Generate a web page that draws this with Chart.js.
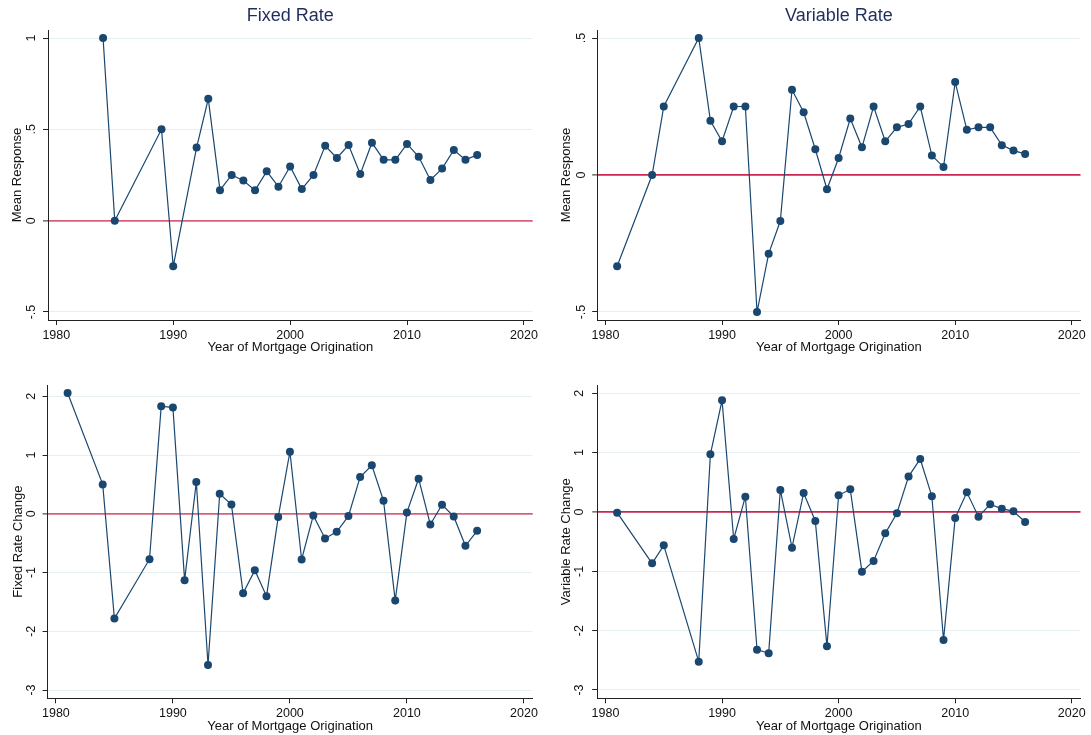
<!DOCTYPE html>
<html>
<head>
<meta charset="utf-8">
<script src="https://cdn.jsdelivr.net/npm/chart.js@4.4.1/dist/chart.umd.min.js"></script>
<style>
  body { margin: 0; background: #fff; }
  #wrap { position: relative; width: 1091px; height: 735px; }
  canvas { position: absolute; }
</style>
</head>
<body>
<div id="wrap">
  <canvas id="c1" width="545" height="367" style="left:0;top:0"></canvas>
  <canvas id="c2" width="546" height="367" style="left:545px;top:0"></canvas>
  <canvas id="c3" width="545" height="368" style="left:0;top:367px"></canvas>
  <canvas id="c4" width="546" height="368" style="left:545px;top:367px"></canvas>
</div>
<script>
// data
const fixedYears = [1984, 1985, 1989, 1990, 1992, 1993, 1994, 1995, 1996, 1997, 1998, 1999, 2000,
  2001, 2002, 2003, 2004, 2005, 2006, 2007, 2008, 2009, 2010, 2011, 2012, 2013, 2014, 2015, 2016];
const fixedResponse = [1.0, 0.0, 0.5, -0.25, 0.4, 0.667, 0.167, 0.25, 0.22, 0.166, 0.27, 0.186, 0.297,
  0.173, 0.25, 0.41, 0.343, 0.414, 0.255, 0.427, 0.333, 0.333, 0.42, 0.35, 0.223, 0.285, 0.387, 0.333, 0.36];

const varYears = [1981, 1984, 1985, 1988, 1989, 1990, 1991, 1992, 1993, 1994, 1995, 1996, 1997, 1998,
  1999, 2000, 2001, 2002, 2003, 2004, 2005, 2006, 2007, 2008, 2009, 2010, 2011, 2012, 2013, 2014, 2015, 2016];
const varResponse = [-0.333, 0.0, 0.25, 0.5, 0.198, 0.123, 0.25, 0.25, -0.5, -0.287, -0.168, 0.311, 0.229, 0.094,
  -0.052, 0.062, 0.206, 0.101, 0.25, 0.123, 0.174, 0.186, 0.25, 0.071, 0.029, 0.339, 0.165, 0.174, 0.174, 0.109, 0.089, 0.077];

const fixedChangeYears = [1981, 1984, 1985, 1988, 1989, 1990, 1991, 1992, 1993, 1994, 1995, 1996, 1997, 1998,
  1999, 2000, 2001, 2002, 2003, 2004, 2005, 2006, 2007, 2008, 2009, 2010, 2011, 2012, 2013, 2014, 2015, 2016];
const fixedChange = [2.057, 0.5, -1.784, -0.773, 1.83, 1.807, -1.13, 0.54, -2.574, 0.341, 0.159, -1.352, -0.96, -1.403,
  -0.057, 1.057, -0.778, -0.028, -0.42, -0.307, -0.04, 0.625, 0.824, 0.222, -1.477, 0.023, 0.597, -0.182, 0.153, -0.045, -0.545, -0.29];

const varChange = [-0.011, -0.865, -0.562, -2.522, 0.972, 1.882, -0.455, 0.258, -2.32, -2.382, 0.371, -0.601, 0.32, -0.152,
  -2.264, 0.281, 0.382, -1.006, -0.826, -0.36, -0.022, 0.596, 0.893, 0.264, -2.157, -0.101, 0.331, -0.079, 0.129, 0.056, 0.011, -0.169];

const yearTicks = [1980, 1990, 2000, 2010, 2020];
const responseTicksFixed = [-0.5, 0, 0.5, 1];
const responseTicksVar = [-0.5, 0, 0.5];
const changeTicks = [-3, -2, -1, 0, 1, 2];

const COLOR_LINE = "#1a476f";
const COLOR_GRID = "#e6eff1";
const COLOR_AXIS = "#222";
const FONT = "'Liberation Sans', Arial, sans-serif";

Chart.defaults.font.family = FONT;
Chart.defaults.color = "#111";

// stata style number labels: .5, -.5
function fmt(v) {
  if (v === 0) return "0";
  return String(v).replace("0.", ".");
}

function makePanel(id, p) {
  const pts = p.years.map((yr, i) => ({ x: yr, y: p.values[i] }));
  new Chart(document.getElementById(id), {
    type: "line",
    data: {
      datasets: [{
        data: pts,
        borderColor: COLOR_LINE,
        backgroundColor: COLOR_LINE,
        borderWidth: 1.2,
        pointRadius: 4,
        pointHoverRadius: 4,
        pointBorderWidth: 0,
        tension: 0,
      }],
    },
    options: {
      responsive: false,
      animation: false,
      layout: { padding: { left: 0, right: p.padRight, top: p.padTop, bottom: 0 } },
      scales: {
        x: {
          type: "linear",
          min: 1979.29,
          max: 2020.75,
          afterBuildTicks: (s) => { s.ticks = yearTicks.map(v => ({ value: v })); },
          afterFit: (s) => { s.height = p.xHeight; },
          ticks: { font: { size: 12.5 }, padding: 3, maxRotation: 0, callback: v => String(v) },
          grid: { drawOnChartArea: false, tickLength: 5, tickColor: COLOR_AXIS, tickWidth: 1 },
          border: { display: true, color: COLOR_AXIS, width: 1 },
          title: {
            display: true, text: "Year of Mortgage Origination",
            font: { size: 13 }, padding: { top: 0, bottom: p.xTitlePad },
          },
        },
        y: {
          min: p.yMin,
          max: p.yMax,
          afterBuildTicks: (s) => { s.ticks = p.yTicks.map(v => ({ value: v })); },
          afterFit: (s) => { s.width = p.yWidth; },
          ticks: {
            font: { size: 12.5 }, minRotation: 90, maxRotation: 90,
            crossAlign: "center", padding: p.yTickPad, callback: v => fmt(v),
          },
          grid: {
            color: (ctx) => (ctx.tick && ctx.tick.value === 0) ? p.zeroColor : COLOR_GRID,
            lineWidth: (ctx) => (ctx.tick && ctx.tick.value === 0) ? 1.8 : 1,
            tickLength: 5, tickColor: COLOR_AXIS, tickWidth: 1,
          },
          border: { display: true, color: COLOR_AXIS, width: 1 },
          title: {
            display: true, text: p.yTitle,
            font: { size: 13 }, padding: { top: p.yTitlePad, bottom: 0 },
          },
        },
      },
      plugins: {
        legend: { display: false },
        tooltip: { enabled: false },
        title: {
          display: !!p.title,
          text: p.title,
          fullSize: false,
          color: "#1f2e5c",
          font: { size: 18, weight: "normal" },
          padding: { top: 5, bottom: 3.4 },
        },
      },
    },
  });
}

makePanel("c1", {
  years: fixedYears, values: fixedResponse, title: "Fixed Rate", yTitle: "Mean Response",
  yTicks: responseTicksFixed, yMin: -0.5438, yMax: 1.0438, zeroColor: "#d6607c",
  padTop: 0, padRight: 12.3, yWidth: 48, xHeight: 47, yTickPad: 3.7, yTitlePad: 9.6, xTitlePad: 12.2,
});
makePanel("c2", {
  years: varYears, values: varResponse, title: "Variable Rate", yTitle: "Mean Response",
  yTicks: responseTicksVar, yMin: -0.5292, yMax: 0.5292, zeroColor: "#c9274f",
  padTop: 0, padRight: 10.5, yWidth: 52.2, xHeight: 47, yTickPad: 3.4, yTitlePad: 13.8, xTitlePad: 12.2,
});
makePanel("c3", {
  years: fixedChangeYears, values: fixedChange, title: "", yTitle: "Fixed Rate Change",
  yTicks: changeTicks, yMin: -3.141, yMax: 2.192, zeroColor: "#d6607c",
  padTop: 18, padRight: 12.3, yWidth: 47.6, xHeight: 36.7, yTickPad: 5, yTitlePad: 10.3, xTitlePad: 1.2,
});
makePanel("c4", {
  years: varYears, values: varChange, title: "", yTitle: "Variable Rate Change",
  yTicks: changeTicks, yMin: -3.14, yMax: 2.14, zeroColor: "#c9274f",
  padTop: 18, padRight: 10.5, yWidth: 52.2, xHeight: 36.7, yTickPad: 6.8, yTitlePad: 13.8, xTitlePad: 1.2,
});
</script>
</body>
</html>
